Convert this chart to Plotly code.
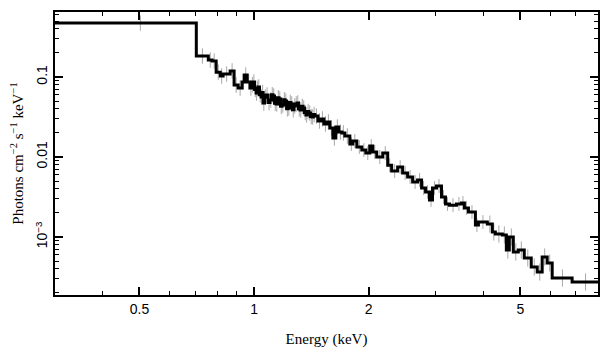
import plotly.graph_objects as go

# Bin lower edges (keV) and last upper edge
bin_lo = [0.30, 0.705, 0.758, 0.776, 0.795, 0.815, 0.829, 0.865, 0.886, 0.908,
          0.930, 0.942, 0.959,
          0.976, 0.985, 0.994, 1.003, 1.012, 1.018, 1.024, 1.033, 1.043, 1.050,
          1.056, 1.065, 1.075, 1.088, 1.101, 1.111, 1.121, 1.131, 1.142, 1.152,
          1.163, 1.173, 1.184, 1.195, 1.206, 1.217, 1.228, 1.239, 1.250, 1.261,
          1.273, 1.284, 1.296, 1.308, 1.320, 1.332, 1.344, 1.356, 1.368, 1.380,
          1.393, 1.406, 1.419, 1.431,
          1.444, 1.471, 1.498, 1.525, 1.553,
          1.581, 1.610, 1.639, 1.669, 1.700, 1.731, 1.784, 1.816, 1.861, 1.918,
          1.965, 2.012, 2.049, 2.099, 2.177, 2.243, 2.297, 2.382, 2.455, 2.530,
          2.608, 2.687, 2.753, 2.820, 2.888, 2.941, 3.013, 3.105, 3.181, 3.259,
          3.399, 3.503, 3.567, 3.655, 3.812, 3.882, 4.097, 4.223, 4.300, 4.486,
          4.596, 4.679, 4.794, 4.940, 5.122, 5.343, 5.540, 5.708, 5.884, 6.064,
          6.841]
bin_hi_last = 8.0

# Photon flux (photons cm^-2 s^-1 keV^-1)
flux = [0.472, 0.183, 0.163, 0.158, 0.115, 0.1029, 0.109, 0.119, 0.0794, 0.0729,
        0.0866, 0.106, 0.0866,
        0.0729, 0.0800, 0.0866, 0.0700, 0.0631, 0.0720, 0.0750, 0.0600, 0.0562, 0.0640,
        0.0473, 0.0560, 0.0596, 0.0480, 0.0516, 0.0600, 0.0579, 0.0470, 0.0460, 0.0550,
        0.0531, 0.0430, 0.0447, 0.0520, 0.0501, 0.0400, 0.0410, 0.0480, 0.0460, 0.0390,
        0.0434, 0.0460, 0.0473, 0.0400, 0.0387, 0.0430, 0.0410, 0.0360, 0.0335, 0.0370,
        0.0355, 0.0320, 0.0316, 0.0340,
        0.0325, 0.0282, 0.0299, 0.0259, 0.0274,
        0.0230, 0.0173, 0.0237, 0.0205, 0.0200, 0.0183, 0.01454, 0.01585, 0.01334, 0.0122,
        0.0112, 0.01373, 0.01155, 0.0100, 0.0112, 0.0079, 0.00668, 0.0075, 0.00631, 0.00562,
        0.00487, 0.00516, 0.0041, 0.00365, 0.0029, 0.0041, 0.00434, 0.00316, 0.00259, 0.0025,
        0.00259, 0.00266, 0.0023, 0.00205, 0.00141, 0.00154, 0.00145, 0.001155, 0.00109, 0.00106,
        0.000688, 0.001, 0.00065, 0.000688, 0.000546, 0.000422, 0.000365, 0.000562, 0.000473, 0.000307,
        0.000274]

# Relative 1-sigma errors
rel_err = [0.25] * 68 + [0.22] * 30 + [0.28] * 15

x_ticks = [0.5, 1, 2, 5]
x_ticktext = ["0.5", "1", "2", "5"]
x_minor = [0.4, 0.6, 0.7, 0.8, 0.9, 3, 4, 6, 7, 8]
y_ticks = [0.001, 0.01, 0.1]
y_ticktext = ["10<sup>−3</sup>", "0.01", "0.1"]
y_minor = [0.0002, 0.0003, 0.0004, 0.0005, 0.0006, 0.0007, 0.0008, 0.0009,
           0.002, 0.003, 0.004, 0.005, 0.006, 0.007, 0.008, 0.009,
           0.02, 0.03, 0.04, 0.05, 0.06, 0.07, 0.08, 0.09,
           0.2, 0.3, 0.4, 0.5, 0.6]

edges = bin_lo + [bin_hi_last]
centers = [(edges[i] + edges[i + 1]) / 2 for i in range(len(flux))]
err_up = [f * r for f, r in zip(flux, rel_err)]
err_dn = [f * r / (1 + r) for f, r in zip(flux, rel_err)]

fig = go.Figure()
fig.add_trace(go.Scatter(
    x=centers, y=flux, mode="markers",
    marker=dict(size=1, color="rgba(0,0,0,0)"),
    error_y=dict(type="data", symmetric=False, array=err_up, arrayminus=err_dn,
                 color="#a8a8a8", thickness=1, width=0),
    showlegend=False, hoverinfo="skip"))
fig.add_trace(go.Scatter(
    x=edges, y=flux + [flux[-1]], mode="lines",
    line=dict(shape="hv", color="black", width=3),
    showlegend=False))

axis_common = dict(
    showline=True, linecolor="black", linewidth=2, mirror="allticks",
    ticks="inside", ticklen=8, tickwidth=1.5, tickcolor="black",
    showgrid=False, zeroline=False, automargin=False,
    tickfont=dict(family="Liberation Sans, Arial", size=14, color="black"),
)

# The page body has an 8 px margin, so the figure is sized to fit the window.
fig.update_layout(
    width=601, height=349,
    margin=dict(l=47, r=11, t=4, b=62),
    paper_bgcolor="white", plot_bgcolor="white",
    xaxis=dict(
        type="log", range=[-0.5229, 0.9031],
        tickvals=x_ticks, ticktext=x_ticktext,
        minor=dict(ticks="inside", ticklen=4, tickwidth=1.2, tickcolor="black",
                   tickvals=x_minor, showgrid=False),
        title=dict(text="Energy (keV)", standoff=18,
                   font=dict(family="Liberation Serif, Times New Roman", size=15, color="black")),
        **axis_common),
    yaxis=dict(
        type="log", range=[-3.725, -0.1875],
        tickvals=y_ticks, ticktext=y_ticktext, tickangle=-90,
        minor=dict(ticks="inside", ticklen=4, tickwidth=1.2, tickcolor="black",
                   tickvals=y_minor, showgrid=False),
        title=dict(text="Photons cm<sup>−2</sup> s<sup>−1</sup> keV<sup>−1</sup>", standoff=6,
                   font=dict(family="Liberation Serif, Times New Roman", size=15, color="black")),
        **axis_common),
)

fig.write_html("out.html")
